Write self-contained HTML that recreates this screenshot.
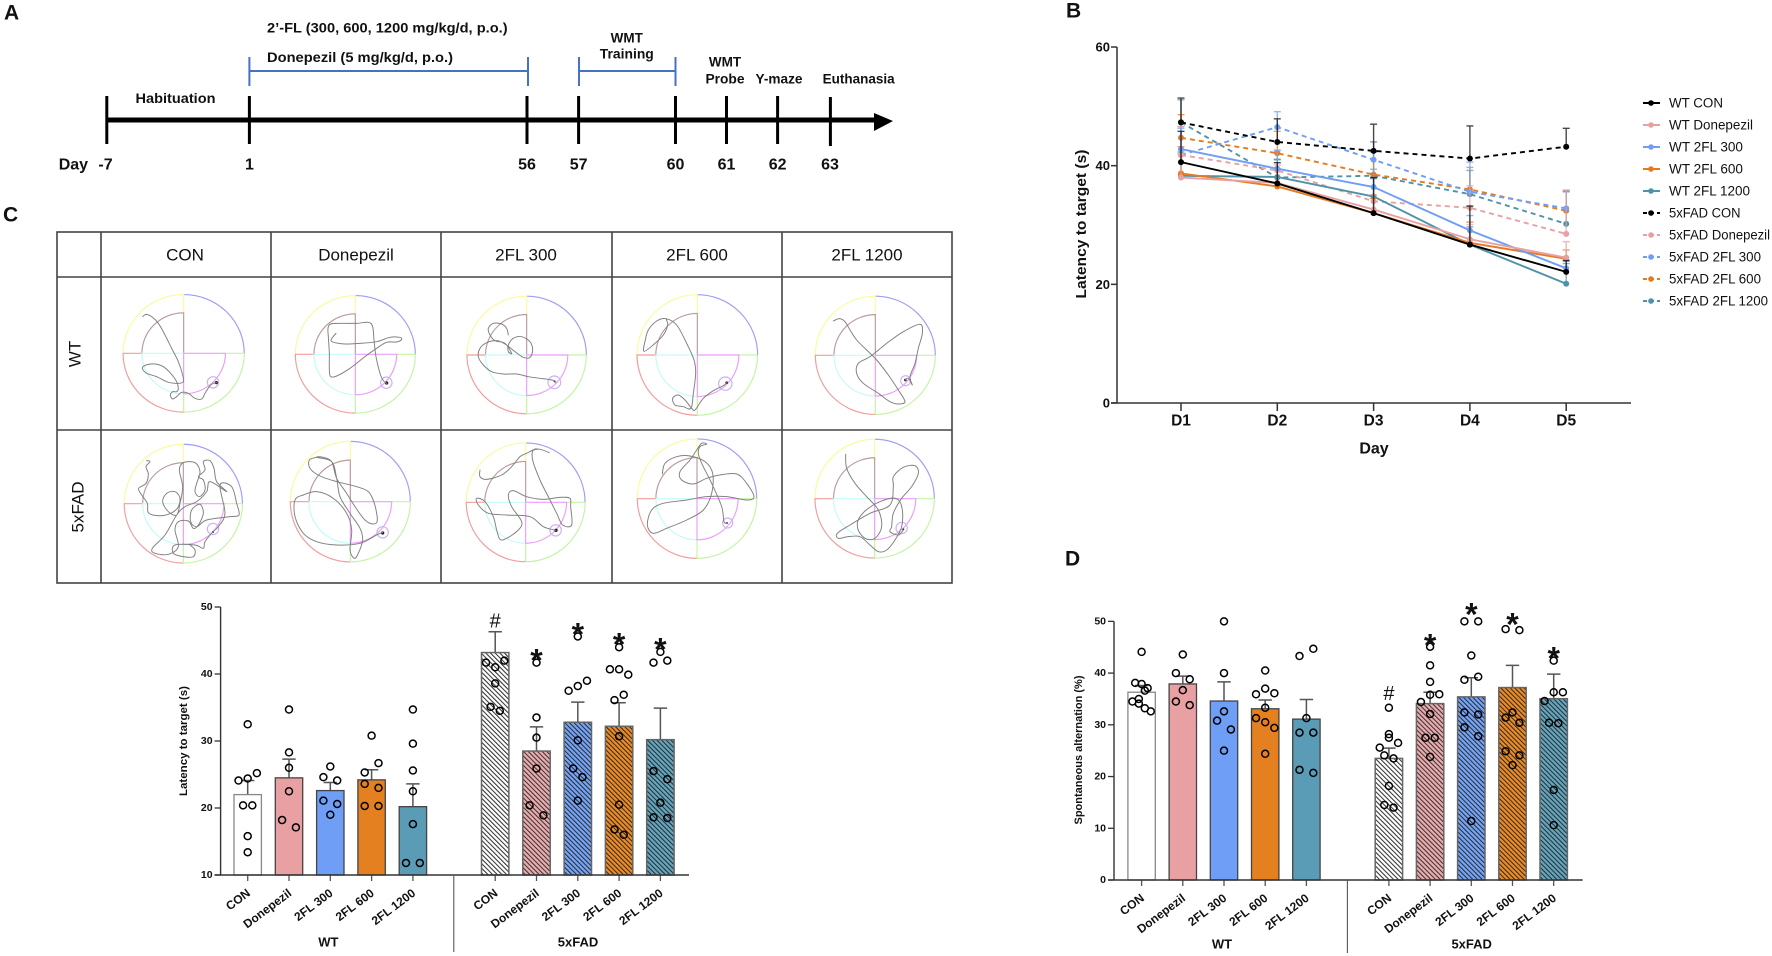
<!DOCTYPE html>
<html lang="en">
<head>
<meta charset="utf-8">
<title>2'-FL study figure</title>
<style>
html,body{margin:0;padding:0;background:#fff;}
svg{display:block;}
text{font-family:"Liberation Sans",sans-serif;fill:#111;dominant-baseline:central;}
.b{font-weight:bold;}
.trk{fill:none;stroke:#808080;stroke-width:2.9;stroke-linejoin:round;stroke-linecap:round;}
.plat{fill:none;stroke:#c9b2f5;stroke-width:3.5;}
.dot{fill:#222;}
.tb{stroke:#444;stroke-width:1.6;fill:none;}
</style>
</head>
<body>
<svg id="fig" xmlns="http://www.w3.org/2000/svg" width="1772" height="956" viewBox="0 0 1772 956">
<defs>
<pattern id="hatch-white" patternUnits="userSpaceOnUse" width="3.3" height="3.3" patternTransform="rotate(-45)"><rect width="3.3" height="3.3" fill="#ffffff"/><rect width="1.05" height="3.3" fill="#333"/></pattern>
<pattern id="hatch-pink" patternUnits="userSpaceOnUse" width="3.3" height="3.3" patternTransform="rotate(-45)"><rect width="3.3" height="3.3" fill="#EBAAAC"/><rect width="1" height="3.3" fill="#333"/></pattern>
<pattern id="hatch-blue" patternUnits="userSpaceOnUse" width="3.3" height="3.3" patternTransform="rotate(-45)"><rect width="3.3" height="3.3" fill="#74A4F8"/><rect width="1" height="3.3" fill="#2a2a2a"/></pattern>
<pattern id="hatch-orange" patternUnits="userSpaceOnUse" width="3.3" height="3.3" patternTransform="rotate(-45)"><rect width="3.3" height="3.3" fill="#EE8A22"/><rect width="1" height="3.3" fill="#2a2a2a"/></pattern>
<pattern id="hatch-teal" patternUnits="userSpaceOnUse" width="3.3" height="3.3" patternTransform="rotate(-45)"><rect width="3.3" height="3.3" fill="#62A6C0"/><rect width="1" height="3.3" fill="#2a2a2a"/></pattern>
<g id="maze-base" fill="none" stroke-width="3.5">
<path d="M0,-180 A180,180 0 0 1 180,0" stroke="#9d9dfb"/>
<path d="M-180,0 A180,180 0 0 1 0,-180 V-124" stroke="#fbfb9d"/>
<path d="M-124,0 A124,124 0 0 1 0,-124 V0" stroke="#bb9c9c"/>
<path d="M0,180 A180,180 0 0 1 -180,0 H-124" stroke="#f29c9c"/>
<path d="M0,124 A124,124 0 0 1 -124,0 H0" stroke="#c2fbfb"/>
<path d="M0,180 A180,180 0 0 0 180,0 M0,180 V124 M124,0 H180" stroke="#c2f5a3"/>
<path d="M0,0 V124 A124,124 0 0 0 124,0 H0" stroke="#ec9dfb"/>
</g>
</defs>
<rect width="1772" height="956" fill="#fff"/>

<!-- Panel letters -->
<text class="b" x="4" y="13" font-size="21">A</text>
<text class="b" x="1066" y="11" font-size="21">B</text>
<text class="b" x="3" y="215" font-size="21">C</text>
<text class="b" x="1065" y="559" font-size="21">D</text>

<!-- Panel A timeline -->
<g>
<rect x="107" y="117.5" width="770" height="5" fill="#000"/>
<polygon points="874,113 893,121 874,131" fill="#000"/>
<g fill="#000">
<rect x="105.3" y="96" width="3" height="48"/>
<rect x="247.9" y="96" width="3" height="48"/>
<rect x="525.5" y="96" width="3" height="48"/>
<rect x="577.1" y="96" width="3" height="48"/>
<rect x="674" y="96" width="3" height="48"/>
<rect x="725" y="96" width="3" height="48"/>
<rect x="776.1" y="96" width="3" height="48"/>
<rect x="828.9" y="97" width="3" height="49"/>
</g>
<path d="M249.4,57 V86 M528,57 V86 M249.4,71 H528" stroke="#4472C4" stroke-width="2" fill="none"/>
<path d="M579,57 V86 M675.5,57 V86 M579,71 H675.5" stroke="#4472C4" stroke-width="2" fill="none"/>
<text class="b" x="267" y="27.5" font-size="14" textLength="240.6" lengthAdjust="spacingAndGlyphs">2’-FL (300, 600, 1200 mg/kg/d, p.o.)</text>
<text class="b" x="267" y="57" font-size="14" textLength="186" lengthAdjust="spacingAndGlyphs">Donepezil (5 mg/kg/d, p.o.)</text>
<text class="b" x="175.5" y="98" font-size="14" text-anchor="middle" textLength="80" lengthAdjust="spacingAndGlyphs">Habituation</text>
<text class="b" x="626.8" y="38" font-size="13.5" text-anchor="middle">WMT</text>
<text class="b" x="626.8" y="54" font-size="13.5" text-anchor="middle" textLength="54" lengthAdjust="spacingAndGlyphs">Training</text>
<text class="b" x="725" y="62" font-size="13.5" text-anchor="middle">WMT</text>
<text class="b" x="725" y="79" font-size="13.5" text-anchor="middle" textLength="39" lengthAdjust="spacingAndGlyphs">Probe</text>
<text class="b" x="779" y="79" font-size="13.5" text-anchor="middle" textLength="47" lengthAdjust="spacingAndGlyphs">Y-maze</text>
<text class="b" x="858.6" y="79" font-size="13.5" text-anchor="middle" textLength="72" lengthAdjust="spacingAndGlyphs">Euthanasia</text>
<text class="b" x="58.7" y="165" font-size="16">Day</text>
<text class="b" x="105.5" y="165" font-size="16" text-anchor="middle">-7</text>
<text class="b" x="249.4" y="165" font-size="16" text-anchor="middle">1</text>
<text class="b" x="527" y="165" font-size="16" text-anchor="middle">56</text>
<text class="b" x="578.6" y="165" font-size="16" text-anchor="middle">57</text>
<text class="b" x="675.5" y="165" font-size="16" text-anchor="middle">60</text>
<text class="b" x="726.5" y="165" font-size="16" text-anchor="middle">61</text>
<text class="b" x="777.6" y="165" font-size="16" text-anchor="middle">62</text>
<text class="b" x="830" y="165" font-size="16" text-anchor="middle">63</text>
</g>

<!-- Panel C table -->
<g>
<rect class="tb" x="57" y="232" width="895" height="351"/>
<path class="tb" d="M101,232 V583 M271,232 V583 M441,232 V583 M612,232 V583 M782,232 V583 M57,277 H952 M57,430 H952"/>
<text x="185" y="255" font-size="17" text-anchor="middle">CON</text>
<text x="356" y="255" font-size="17" text-anchor="middle">Donepezil</text>
<text x="526" y="255" font-size="17" text-anchor="middle">2FL 300</text>
<text x="697" y="255" font-size="17" text-anchor="middle">2FL 600</text>
<text x="867" y="255" font-size="17" text-anchor="middle">2FL 1200</text>
<text x="75" y="354" font-size="17" text-anchor="middle" transform="rotate(-90 75 354)">WT</text>
<text x="78" y="507" font-size="17" text-anchor="middle" transform="rotate(-90 78 507)">5xFAD</text>
</g>

<g transform="translate(40 220) scale(0.33333)">
<g>
<use href="#maze-base" transform="translate(431 400) scale(1.01 .98)"/>
<circle class="plat" cx="519" cy="487" r="17"/><circle class="dot" cx="529" cy="488" r="5"/>
<polyline class="trk" points="308,290 318,283 335,290 355,310 375,345 395,385 415,425 428,465 430,485 415,490 385,487 350,470 320,460 307,445 318,435 345,432 370,440 392,460 410,485 415,505 410,515 398,515 391,525 398,537 412,528 425,517 445,520 465,535 485,537 495,520 510,497 520,490 530,488"/>
</g>
<g>
<use href="#maze-base" transform="translate(946 403) scale(1 .98)"/>
<circle class="plat" cx="1039" cy="488" r="17"/><circle class="dot" cx="1040" cy="489" r="5"/>
<polyline class="trk" points="888,340 878,352 873,362 885,368 915,372 960,370 1010,365 1050,352 1078,352 1085,358 1070,366 1040,367 1010,385 975,410 930,445 890,468 872,470 868,450 868,400 865,350 864,325 872,312 900,310 950,310 985,307 998,320 1002,360 1008,410 1020,460 1030,482 1040,490"/>
</g>
<g>
<use href="#maze-base" transform="translate(1460 405) scale(.995 .98)"/>
<circle class="plat" cx="1543" cy="487" r="19"/><circle class="dot" cx="1544" cy="484" r="3"/>
<polyline class="trk" points="1405,345 1400,325 1385,312 1360,310 1345,325 1350,345 1365,362 1395,370 1415,400 1405,395 1405,375 1420,355 1445,350 1470,365 1478,390 1470,412 1450,412 1425,395 1395,372 1370,362 1340,368 1320,385 1315,410 1330,435 1355,455 1390,462 1430,462 1465,470 1500,475 1523,478 1543,482 1548,488"/>
</g>
<g>
<use href="#maze-base" transform="translate(430 851) scale(.985 .99)"/>
<circle class="plat" cx="519" cy="927" r="17"/><circle class="dot" cx="519" cy="936" r="3"/>
<polyline class="trk" points="320,722 330,725 318,740 325,762 318,790 296,805 305,825 322,850 325,878 352,887 385,883 412,865 420,835 405,815 380,820 368,845 385,875 410,885 420,850 428,800 418,750 430,728 465,728 480,755 470,790 465,815 478,830 495,810 490,780 475,770 495,750 490,725 510,722 522,745 530,785 560,815 510,785 500,815 470,845 435,860 410,885 375,945 337,985 345,1000 385,1003 415,980 405,930 415,905 445,903 460,925 475,915 490,880 480,853 455,870 452,905 470,920 500,900 570,890 597,885 590,850 575,800 540,795 555,880 535,920 519,935 495,965 490,985 465,975 405,975 400,1000 430,1010 460,1010 465,990 450,975"/>
</g>
<g>
<use href="#maze-base" transform="translate(931 845) scale(1 1.005)"/>
<circle class="plat" cx="1028" cy="937" r="17"/><circle class="dot" cx="1028" cy="939" r="5"/>
<polyline class="trk" points="830,712 808,720 810,745 840,768 890,785 950,800 985,815 1003,850 1012,900 1000,912 975,900 945,860 920,820 890,775 875,725 850,712 830,712 875,725 890,775 900,830 930,880 960,925 968,960 955,1000 943,1015 930,990 935,930 920,880 880,835 830,815 790,825 765,840 765,890 790,940 830,965 890,975 960,970 1010,945 1028,937"/>
</g>
<g>
<use href="#maze-base" transform="translate(1457 847) scale(.99 .99)"/>
<circle class="plat" cx="1547" cy="931" r="17"/><circle class="dot" cx="1548" cy="931" r="5"/>
<polyline class="trk" points="1320,750 1320,770 1340,778 1385,765 1415,740 1440,710 1460,700 1480,690 1500,688 1528,698 1500,688 1480,690 1478,720 1500,780 1530,840 1550,880 1568,915 1595,915 1592,860 1590,835 1560,832 1510,838 1460,830 1420,812 1405,825 1415,860 1445,905 1435,930 1400,955 1380,958 1370,930 1360,890 1335,845 1310,835 1315,855 1345,880 1400,885 1470,890 1510,920 1547,931"/>
</g>
</g>

<g transform="translate(520 220) scale(0.33333)">
<g>
<use href="#maze-base" transform="translate(532 405) scale(1.005 1.005)"/>
<circle class="plat" cx="616" cy="491" r="20"/><circle class="dot" cx="620" cy="488" r="4"/>
<polyline class="trk" points="438,296 443,315 430,345 405,370 372,394 376,360 385,330 410,303 438,296 470,315 500,370 522,420 527,460 520,520 513,565 490,560 465,555 458,535 475,525 495,540 515,565 525,570 550,535 580,512 610,497 620,488"/>
</g>
<g>
<use href="#maze-base" transform="translate(1066 406) scale(1 .985)"/>
<circle class="plat" cx="1157" cy="482" r="15"/><circle class="dot" cx="1156" cy="480" r="4"/>
<polyline class="trk" points="940,303 958,296 975,305 990,330 1010,360 1040,390 1070,420 1105,465 1135,510 1155,545 1135,552 1110,545 1075,520 1030,490 1010,460 1015,430 1050,410 1100,370 1150,335 1200,313 1207,340 1195,385 1185,430 1170,470 1177,495 1165,475 1155,480"/>
</g>
<g>
<use href="#maze-base" transform="translate(531 836) scale(.995 .995)"/>
<circle class="plat" cx="623" cy="909" r="15"/><circle class="dot" cx="621" cy="909" r="3"/>
<polyline class="trk" points="427,762 435,730 470,710 510,708 555,725 578,760 575,820 550,870 500,900 440,925 400,940 382,915 395,870 430,850 500,840 560,830 620,830 680,840 702,830 680,790 650,762 600,765 560,775 520,792 485,780 480,755 510,720 530,690 545,670 560,672 540,680 535,700 545,730 575,790 605,860 612,905 622,909"/>
</g>
<g>
<use href="#maze-base" transform="translate(1064 836) scale(.995 .99)"/>
<circle class="plat" cx="1145" cy="924" r="17"/><circle class="dot" cx="1150" cy="928" r="3"/>
<polyline class="trk" points="977,703 980,745 1005,790 1040,830 1075,870 1085,920 1065,955 1035,955 1013,925 1020,890 1060,855 1110,835 1135,840 1147,870 1145,920 1125,960 1100,990 1075,995 1050,975 1020,950 985,950 955,955 952,940 990,915 1050,880 1110,855 1120,800 1120,770 1150,742 1185,737 1195,760 1175,800 1145,835 1120,880 1115,920 1110,935 1135,945 1150,930"/>
</g>
</g>

<g id="panel-b"></g>
<g id="panel-c"></g>
<g id="panel-d"></g>
</svg>

<script>
/* ---------- Panel B data ---------- */
const days = ['D1', 'D2', 'D3', 'D4', 'D5'];
const lineTicks = [0, 20, 40, 60];
const seriesNames = ['WT CON', 'WT Donepezil', 'WT 2FL 300', 'WT 2FL 600', 'WT 2FL 1200', '5xFAD CON', '5xFAD Donepezil', '5xFAD 2FL 300', '5xFAD 2FL 600', '5xFAD 2FL 1200'];
const wtCon = [40.6, 37, 32, 26.7, 22.1];
const wtDonepezil = [38, 37.1, 32.6, 27.6, 24.5];
const wt300 = [42.8, 39.5, 36.4, 29.1, 22.7];
const wt600 = [38.7, 36.5, 32, 27, 24.3];
const wt1200 = [38.3, 38.1, 34.8, 26.7, 20.1];
const fadCon = [47.3, 44, 42.5, 41.2, 43.2];
const fadDonepezil = [41.8, 39.2, 34, 32.9, 28.5];
const fad300 = [41.8, 46.5, 41, 35.6, 32.8];
const fad600 = [44.7, 42.1, 38.5, 36, 32.4];
const fad1200 = [47.3, 38, 38.3, 35.2, 30.2];
const wtConErr = [5.2, 3.5, 6, 6.5, 1.9];
const wtDonepezilErr = [4, 3, 2.5, 2.5, 2.7];
const wt300Err = [3.5, 3, 3, 2.5, 1.2];
const wt600Err = [4.5, 3, 2.5, 3.5, 1.5];
const wt1200Err = [4, 3, 3, 3, 3.4];
const fadConErr = [4.1, 3.9, 4.5, 5.5, 3.1];
const fadDonepezilErr = [4.8, 3.5, 4, 3.7, 7.4];
const fad300Err = [4.8, 2.6, 3, 5, 3];
const fad600Err = [3.9, 3.7, 5.5, 3.7, 3.3];
const fad1200Err = [3.8, 3, 4, 4, 5.4];
const legendTextWidths = [54, 84, 74, 74, 81, 71.5, 101, 92, 92, 99];

/* ---------- Panel C data ---------- */
const barCategories = ['CON', 'Donepezil', '2FL 300', '2FL 600', '2FL 1200', 'CON', 'Donepezil', '2FL 300', '2FL 600', '2FL 1200'];
const cTicks = [10, 20, 30, 40, 50];
const cMeans = [22, 24.5, 22.6, 24.2, 20.2, 43.2, 28.5, 32.8, 32.2, 30.2];
const cErrorTops = [24.1, 27.3, 23.8, 25.7, 23.6, 46.3, 32.1, 35.8, 35.7, 34.9];
const cPoints = [
  [32.5, 24.1, 24.4, 25.2, 20.4, 20.4, 15.8, 13.4],
  [34.7, 28.3, 26, 22.5, 18.2, 17.1],
  [26.2, 24.6, 24.1, 21.1, 20.6, 19],
  [30.8, 26.7, 25.3, 23.6, 23, 20.3, 20.3],
  [34.7, 29.6, 25.6, 22.5, 17.6, 11.8, 11.8],
  [41.7, 42, 41, 38.6, 35.1, 34.5],
  [41.7, 33.5, 30.5, 25.9, 20.4, 18.9],
  [45.6, 37.5, 38.2, 39, 30.1, 25.9, 24.6, 21.1],
  [44, 40.7, 40.7, 39.9, 36.1, 36.9, 30.7, 20.5, 16.8, 16],
  [43.3, 41.7, 42, 25.5, 24.3, 20.8, 18.6, 18.5]
];
const cSwarmSlots = [
  [0, -1.33, 0, 1.33, -.67, .67, 0, 0],
  [0, 0, 0, 0, -1, 1],
  [0, -1, 1, -1, 1, 0],
  [0, 1, -1, -1, 1, -1, 1],
  [0, 0, 0, 0, 0, -1, 1],
  [-1.33, 1.33, 0, 0, -.67, .67],
  [0, 0, 0, 0, -1, 1],
  [0, -1.33, 0, 1.33, 0, -.67, .67, 0],
  [0, -1.33, 0, 1.33, -.67, .67, 0, 0, -.67, .67],
  [0, -1, 1, -1, 1, 0, -1, 1]
];
const cMarkSymbols = ['#', '*', '*', '*', '*'];
const cMarkValues = [47.8, 43.1, 47, 45.5, 44.8];

/* ---------- Panel D data ---------- */
const dTicks = [0, 10, 20, 30, 40, 50];
const dMeans = [36.3, 37.9, 34.6, 33.1, 31.1, 23.5, 34.1, 35.4, 37.2, 35.05];
const dErrorTops = [37.6, 39.4, 38.3, 34.8, 34.9, 25.5, 36.3, 39.1, 41.5, 39.8];
const dPoints = [
  [44.1, 38.1, 37.9, 37.1, 36.6, 34.5, 35, 34.1, 33.2, 32.6],
  [43.6, 40, 38.8, 36.7, 34.5, 33.8],
  [50, 40, 32.6, 30.8, 29.1, 25],
  [40.5, 37, 35.9, 36.1, 33.3, 31.3, 30.5, 29.4, 24.4],
  [43.3, 44.7, 31.3, 28.5, 28.5, 21.3, 20.7],
  [33.3, 28.2, 27.5, 26.5, 25.6, 24.1, 23.5, 18.2, 14.5, 14],
  [45.1, 41.5, 38.3, 35.8, 35.9, 34.4, 32.1, 27.5, 27.5, 23.8],
  [50, 50, 43.4, 38.7, 39.3, 32.4, 32, 29.5, 27.8, 11.4],
  [48.5, 48.3, 32.4, 31.4, 30.4, 24.9, 24.1, 22.2],
  [42.4, 36.3, 36.3, 34.6, 30.4, 30.3, 17.4, 10.6]
];
const dSwarmSlots = [
  [0, -.93, 0, .87, .47, -1.33, -.4, -.4, .47, 1.33],
  [0, -1, 1, 0, -1, 1],
  [0, 0, 0, -1, 1, 0],
  [0, 0, -1.33, 1.33, 0, -1.33, 0, 1.33, 0],
  [-1, 1, 0, -1, 1, -1, 1],
  [0, 0, 0, 1.33, -1.33, -.67, .67, 0, -.67, .67],
  [0, 0, 0, 0, 1.33, -1.33, 0, -.67, .67, 0],
  [-1, 1, 0, -1, 1, -1, 1, -1, 1, 0],
  [-1, 1, 0, -1, 1, -1, 1, 0],
  [0, 0, 1.33, -1.33, -.67, .67, 0, 0]
];
const dMarkSymbols = ['#', '*', '*', '*', '*'];
const dMarkValues = [36, 46.8, 52.8, 50.8, 44.3];

/* ---------- Palette ---------- */
const seriesColors = ['#000000', '#E8A0A2', '#6E9EF5', '#E57B1E', '#4F93A8', '#000000', '#E8A0A2', '#6E9EF5', '#E57B1E', '#4F93A8'];
const solidFills = ['#ffffff', '#E8A0A2', '#6E9EF5', '#E58020', '#5A9BB5'];
const hatchFills = ['url(#hatch-white)', 'url(#hatch-pink)', 'url(#hatch-blue)', 'url(#hatch-orange)', 'url(#hatch-teal)'];

const SVGNS = 'http://www.w3.org/2000/svg';
function mk(parent, tag, attrs, txt) {
  const el = document.createElementNS(SVGNS, tag);
  for (const k in attrs) el.setAttribute(k, attrs[k]);
  if (txt !== undefined) el.textContent = txt;
  parent.appendChild(el);
  return el;
}
function slug(s) { return String(s).toLowerCase().replace(/[^a-z0-9]+/g, '-'); }

/* ---------- Smooth the swim tracks ---------- */
document.querySelectorAll('polyline.trk').forEach(function (poly) {
  const p = poly.getAttribute('points').trim().split(/\s+/).map(function (s) { return s.split(',').map(Number); });
  let d = 'M' + p[0][0] + ',' + p[0][1];
  for (let i = 0; i < p.length - 1; i++) {
    const a = p[Math.max(i - 1, 0)];
    const b = p[i];
    const c = p[i + 1];
    const e = p[Math.min(i + 2, p.length - 1)];
    d += ' C' + (b[0] + (c[0] - a[0]) / 6) + ',' + (b[1] + (c[1] - a[1]) / 6) + ' ' + (c[0] - (e[0] - b[0]) / 6) + ',' + (c[1] - (e[1] - b[1]) / 6) + ' ' + c[0] + ',' + c[1];
  }
  const path = document.createElementNS(SVGNS, 'path');
  path.setAttribute('class', 'trk');
  path.setAttribute('d', d);
  
  
  poly.parentNode.replaceChild(path, poly);
});

/* ---------- Panel B ---------- */
(function () {
  const root = document.getElementById('panel-b');
  const seriesValues = [wtCon, wtDonepezil, wt300, wt600, wt1200, fadCon, fadDonepezil, fad300, fad600, fad1200];
  const seriesErrors = [wtConErr, wtDonepezilErr, wt300Err, wt600Err, wt1200Err, fadConErr, fadDonepezilErr, fad300Err, fad600Err, fad1200Err];
  const xOf = function (i) { return 1181 + i * 96.3; };
  const yOf = function (v) { return 403 - v * 5.933; };

  const yAxis = mk(root, 'line', { x1: 1117, y1: yOf(60), x2: 1117, y2: 403, stroke: '#333', 'stroke-width': 1.5 });
  
  
  const xAxis = mk(root, 'line', { x1: 1111, y1: 403, x2: 1631, y2: 403, stroke: '#333', 'stroke-width': 1.5 });
  
  

  lineTicks.forEach(function (t) {
    const tick = mk(root, 'line', { x1: 1111, x2: 1117, y1: yOf(t), y2: yOf(t), stroke: '#333', 'stroke-width': 1.5 });
    
    
    const label = mk(root, 'text', { x: 1110, y: yOf(t), 'font-size': 13, 'font-weight': 'bold', 'text-anchor': 'end' }, t);
    
    
  });
  days.forEach(function (d, i) {
    const tick = mk(root, 'line', { x1: xOf(i), x2: xOf(i), y1: 403, y2: 411, stroke: '#333', 'stroke-width': 1.5 });
    
    
    const label = mk(root, 'text', { x: xOf(i), y: 421, 'font-size': 15.5, 'font-weight': 'bold', 'text-anchor': 'middle' }, d);
    
    
  });
  const xTitle = mk(root, 'text', { x: 1374, y: 449, 'font-size': 16, 'font-weight': 'bold', 'text-anchor': 'middle' }, 'Day');
  
  
  const yTitle = mk(root, 'text', { x: 1082, y: 224, 'font-size': 14.5, 'font-weight': 'bold', 'text-anchor': 'middle', transform: 'rotate(-90 1082 224)', textLength: 149, lengthAdjust: 'spacingAndGlyphs' }, 'Latency to target (s)');
  
  

  for (let s = seriesNames.length - 1; s >= 0; s--) {
    const dashed = s >= 5;
    const color = seriesColors[s];
    const group = mk(root, 'g', {});
    
    
    seriesValues[s].forEach(function (v, i) {
      const top = yOf(v + seriesErrors[s][i]);
      const err = mk(group, 'path', { d: 'M' + xOf(i) + ',' + yOf(v) + ' V' + top + ' M' + (xOf(i) - 3.5) + ',' + top + ' H' + (xOf(i) + 3.5), stroke: color, 'stroke-width': 1.4, fill: 'none', opacity: 0.72 });
      
      
    });
    const pts = seriesValues[s].map(function (v, i) { return xOf(i) + ',' + yOf(v); }).join(' ');
    const line = mk(group, 'polyline', { points: pts, fill: 'none', stroke: color, 'stroke-width': 1.9, 'stroke-dasharray': dashed ? '5 4' : 'none' });
    
    
    seriesValues[s].forEach(function (v, i) {
      const pt = mk(group, 'circle', { cx: xOf(i), cy: yOf(v), r: 3, fill: color });
      
      
    });
  }

  seriesNames.forEach(function (name, s) {
    const rowY = 103 + s * 22;
    const entry = mk(root, 'g', {});
    
    
    const sample = mk(entry, 'line', { x1: 1643, x2: 1660, y1: rowY, y2: rowY, stroke: seriesColors[s], 'stroke-width': 1.9, 'stroke-dasharray': s >= 5 ? '4 3' : 'none' });
    
    
    const swatch = mk(entry, 'circle', { cx: 1651, cy: rowY, r: 2.8, fill: seriesColors[s] });
    
    
    const label = mk(entry, 'text', { x: 1669, y: rowY, 'font-size': 13.5, textLength: legendTextWidths[s], lengthAdjust: 'spacingAndGlyphs' }, name);
    
    
  });
})();

/* ---------- Bar panels ---------- */
function drawBars(rootId, opt, ticks, means, errorTops, points, slots, markSymbols, markValues) {
  const root = document.getElementById(rootId);
  const yOf = function (v) { return opt.base - (v - ticks[0]) * opt.unit; };
  const xOf = function (i) { return i < 5 ? opt.firstWt + i * opt.step : opt.firstFad + (i - 5) * opt.step; };
  const barW = 27.4;

  means.forEach(function (m, i) {
    const g = mk(root, 'g', {});
    
    
    const top = yOf(errorTops[i]);
    const cx = xOf(i);
    const err = mk(g, 'path', { d: 'M' + cx + ',' + yOf(m) + ' V' + top + ' M' + (cx - 6.7) + ',' + top + ' H' + (cx + 6.7), stroke: '#555', 'stroke-width': 1.5, fill: 'none' });
    
    
    const fill = i < 5 ? solidFills[i] : hatchFills[i - 5];
    const bar = mk(g, 'rect', { x: cx - barW / 2, y: yOf(m), width: barW, height: opt.base - yOf(m), fill: fill, stroke: i === 0 ? '#888' : (i >= 5 ? '#666' : '#444'), 'stroke-width': i >= 5 ? 1.5 : 1.3 });
    
    
    points[i].forEach(function (v, k) {
      const pt = mk(g, 'circle', { cx: cx + slots[i][k] * 6.9, cy: yOf(v), r: 3.5, fill: 'none', stroke: '#000', 'stroke-width': 1.5 });
      
      
    });
    const tick = mk(g, 'line', { x1: cx, x2: cx, y1: opt.base, y2: opt.base + 6, stroke: '#555', 'stroke-width': 1.3 });
    
    
    const lx = cx + 1;
    const ly = opt.base + 16.5;
    const label = mk(g, 'text', { x: lx, y: ly, 'font-size': 12, 'font-weight': 'bold', 'text-anchor': 'end', transform: 'rotate(-37 ' + lx + ' ' + ly + ')' }, barCategories[i]);
    
    
  });

  const yAxis = mk(root, 'line', { x1: opt.axisX, x2: opt.axisX, y1: yOf(ticks[ticks.length - 1]), y2: opt.base, stroke: '#333', 'stroke-width': 1.4 });
  
  
  const xAxis = mk(root, 'line', { x1: opt.axisX - 6, x2: opt.axisEnd, y1: opt.base, y2: opt.base, stroke: '#333', 'stroke-width': 1.4 });
  
  
  const divider = mk(root, 'line', { x1: opt.dividerX, x2: opt.dividerX, y1: opt.base, y2: opt.dividerEnd, stroke: '#555', 'stroke-width': 1.1 });
  
  

  ticks.forEach(function (t) {
    const tick = mk(root, 'line', { x1: opt.axisX - 6, x2: opt.axisX, y1: yOf(t), y2: yOf(t), stroke: '#333', 'stroke-width': 1.3 });
    
    
    const label = mk(root, 'text', { x: opt.axisX - 8, y: yOf(t), 'font-size': 10.5, 'font-weight': 'bold', 'text-anchor': 'end' }, t);
    
    
  });

  const yTitle = mk(root, 'text', { x: opt.titleX, y: opt.titleY, 'font-size': 11, 'font-weight': 'bold', 'text-anchor': 'middle', transform: 'rotate(-90 ' + opt.titleX + ' ' + opt.titleY + ')', textLength: opt.titleLen, lengthAdjust: 'spacingAndGlyphs' }, opt.title);
  
  

  const wtLabel = mk(root, 'text', { x: opt.wtLabelX, y: opt.groupY, 'font-size': 13, 'font-weight': 'bold', 'text-anchor': 'middle' }, 'WT');
  
  
  const fadLabel = mk(root, 'text', { x: opt.fadLabelX, y: opt.groupY, 'font-size': 13, 'font-weight': 'bold', 'text-anchor': 'middle' }, '5xFAD');
  
  

  markSymbols.forEach(function (sym, i) {
    const isStar = sym === '*';
    const mark = mk(root, 'text', { x: xOf(i + 5), y: yOf(markValues[i]) + (isStar ? 7.5 : 0), 'font-size': isStar ? 32 : 20, 'font-weight': isStar ? 'bold' : 'normal', 'text-anchor': 'middle' }, sym);
    
    
  });
}

drawBars('panel-c', {
  base: 875, unit: 6.7, axisX: 220.6, axisEnd: 689, firstWt: 247.7, firstFad: 495.2, step: 41.3,
  dividerX: 453.8, dividerEnd: 952, titleX: 184, titleY: 741, titleLen: 110,
  title: 'Latency to target (s)', wtLabelX: 328.3, fadLabelX: 578, groupY: 942
}, cTicks, cMeans, cErrorTops, cPoints, cSwarmSlots, cMarkSymbols, cMarkValues);

drawBars('panel-d', {
  base: 880, unit: 5.173, axisX: 1114, axisEnd: 1582.7, firstWt: 1141.6, firstFad: 1388.9, step: 41.2,
  dividerX: 1347.4, dividerEnd: 953, titleX: 1079, titleY: 750, titleLen: 149,
  title: 'Spontaneous alternation (%)', wtLabelX: 1222, fadLabelX: 1471.7, groupY: 944
}, dTicks, dMeans, dErrorTops, dPoints, dSwarmSlots, dMarkSymbols, dMarkValues);
</script>
</body>
</html>
